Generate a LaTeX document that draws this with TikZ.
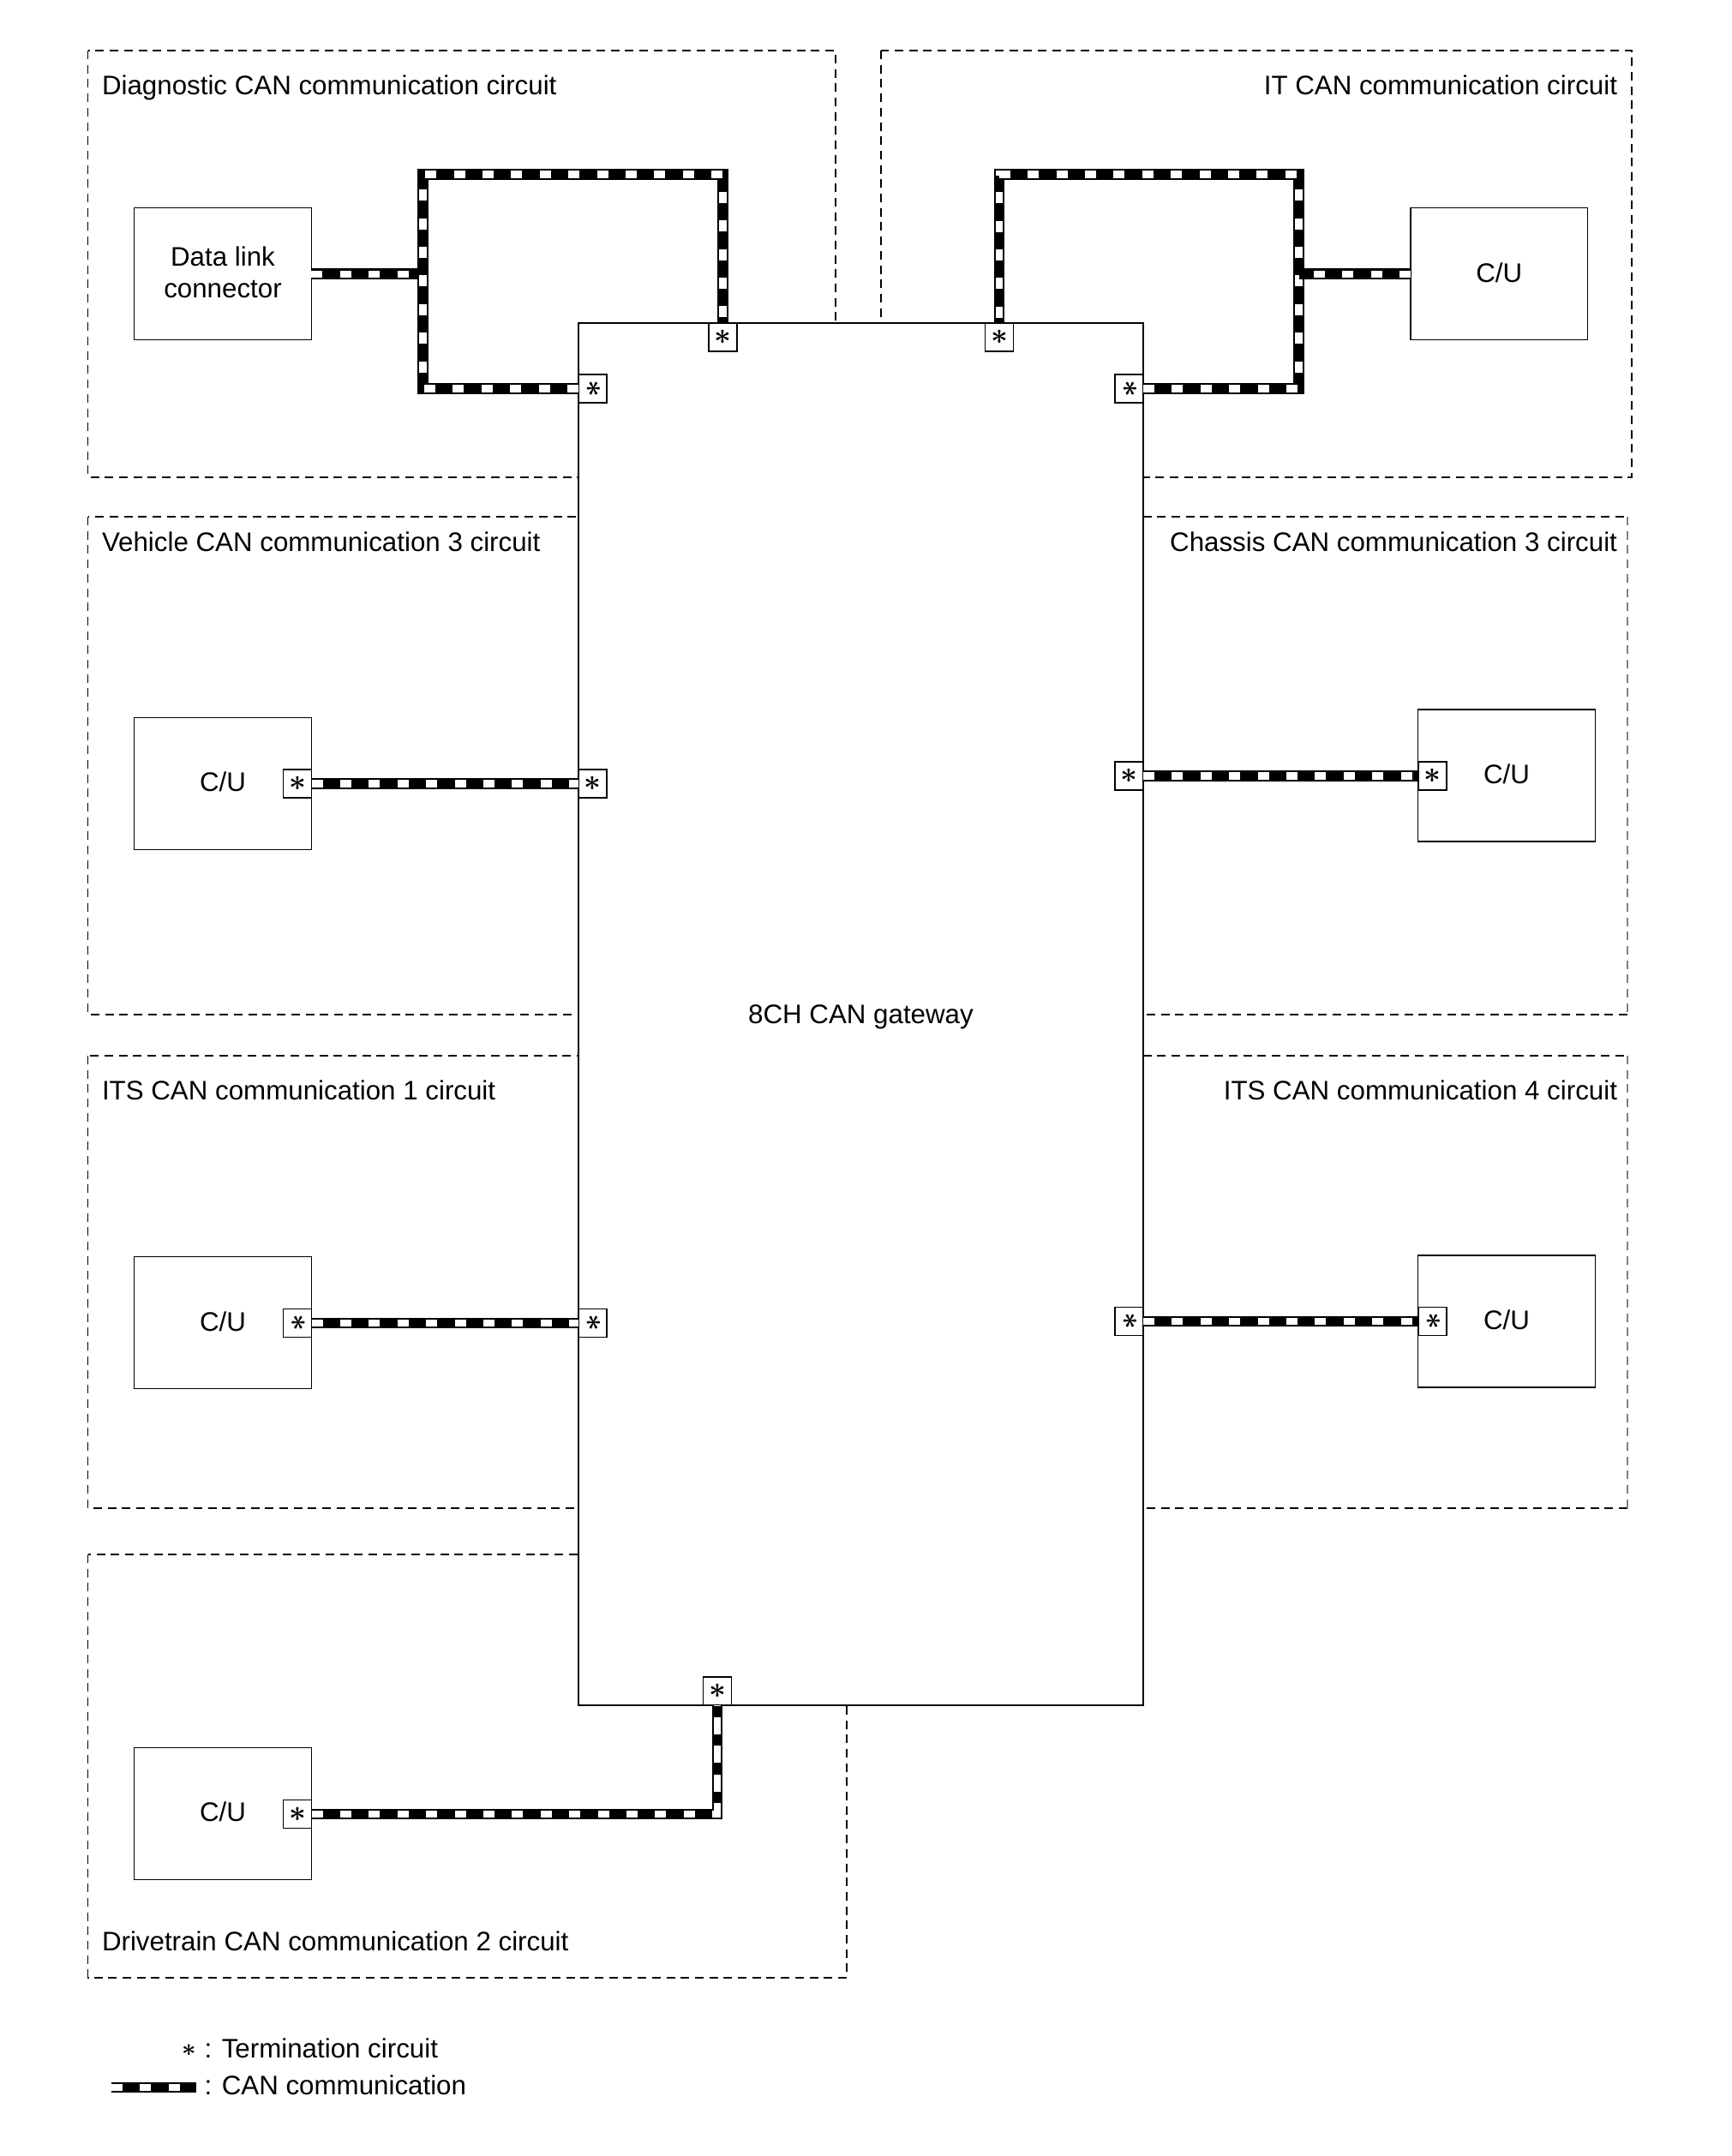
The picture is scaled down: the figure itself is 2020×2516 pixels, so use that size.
\documentclass[tikz,border=0pt]{standalone}
\usepackage{amsmath}
\usepackage{fontspec}
\setmainfont{Liberation Sans}

\tikzset{
	region/.style = {draw = black, line width = 0.7pt, dash pattern = on 5pt off 3.35pt},
	unitbox/.style = {draw = black, fill = white, line width = 0.65pt, inner sep = 0, outer sep = 0, align = center, text depth = 2pt, minimum width = 103.4pt, minimum height = 77pt},
	termbox/.style = {draw = black, fill = white, line width = 0.85pt, inner sep = 0, outer sep = 0, minimum size = 16.5pt},
	title/.style = {inner sep = 0, outer sep = 0},
	canblack/.style = {draw = black, line width = 6.25pt},
	canwhite/.style = {draw = white, line width = 4.2pt, dash pattern = on 6.5pt off 10.2pt},
	canwire/.style = {canblack, postaction = {canwhite}}
}
\newcommand{\termstar}{\fontsize{19}{19}\selectfont\raisebox{-.22em}[.25em][.25em]{$\boldsymbol{\ast}$}}
\newcommand{\termstarh}{\rotatebox[origin = c]{90}{\fontsize{19}{19}\selectfont\raisebox{-.25em}[.25em][.25em]{$\boldsymbol{\ast}$}}}

\begin{document}
\begin{tikzpicture}[x = 0.5pt, y = -0.5pt, font = \fontsize{15.65}{18.5}\selectfont]

	\useasboundingbox (0, 0) rectangle (2020, 2516);

	% Circuit regions

	\draw [region] (102.5, 59) rectangle (975, 557);
	\draw [region] (1028, 59) rectangle (1904, 557);
	\draw [region] (102.5, 603) rectangle (800, 1184);
	\draw [region] (1899, 1184) -- (1200, 1184) (1200, 603) -- (1899, 603);
	\draw [region, gray] (1899, 603) -- (1899, 1184);
	\draw [region] (102.5, 1232) rectangle (800, 1760);
	\draw [region] (1899, 1760) -- (1200, 1760) (1200, 1232) -- (1899, 1232);
	\draw [region, gray] (1899, 1232) -- (1899, 1760);
	\draw [region] (102.5, 1814) rectangle (988, 2308);

	\node [title, anchor = base west] (diagTitle) at (119, 110) {Diagnostic CAN communication circuit};
	\node [title, anchor = base east] (itTitle) at (1887, 110) {IT CAN communication circuit};
	\node [title, anchor = base west] (vehTitle) at (119, 643) {Vehicle CAN communication 3 circuit};
	\node [title, anchor = base east] (chaTitle) at (1887, 643) {Chassis CAN communication 3 circuit};
	\node [title, anchor = base west] (itsaTitle) at (119, 1283.5) {ITS CAN communication 1 circuit};
	\node [title, anchor = base east] (itsdTitle) at (1887, 1283.5) {ITS CAN communication 4 circuit};
	\node [title, anchor = base west] (driTitle) at (119, 2276.5) {Drivetrain CAN communication 2 circuit};

	% Gateway + control units

	\node [unitbox, line width = 0.85pt, text depth = 3.3pt, text height = 14pt, minimum width = 329.5pt, minimum height = 806.5pt] (gateway) at (1004.5, 1183.5) {8CH CAN gateway};

	\node [unitbox] (dlc) at (260, 319.7) {Data link\\connector};
	\node [unitbox] (itCU) at (1749.3, 319.7) {C/U};
	\node [unitbox] (vehCU) at (260, 914.2) {C/U};
	\node [unitbox] (chaCU) at (1758, 905) {C/U};
	\node [unitbox] (itsaCU) at (260, 1543.8) {C/U};
	\node [unitbox] (itsdCU) at (1758, 1542) {C/U};
	\node [unitbox] (driCU) at (260, 2116.5) {C/U};

	% Termination circuits

	\node [termbox] (diagA) at (691.5, 453.5) {\termstarh};
	\node [termbox] (diagB) at (843.3, 393.5) {\termstar};
	\node [termbox] (itA) at (1166, 393.5) {\termstar};
	\node [termbox] (itB) at (1317.5, 453.5) {\termstarh};
	\node [termbox] (vehA) at (347, 914.5) {\termstar};
	\node [termbox] (vehB) at (691.5, 914.5) {\termstar};
	\node [termbox] (chaA) at (1317.5, 905.3) {\termstar};
	\node [termbox] (chaB) at (1671.5, 905.3) {\termstar};
	\node [termbox] (itsaA) at (347, 1544) {\termstarh};
	\node [termbox] (itsaB) at (691.5, 1544) {\termstarh};
	\node [termbox] (itsdA) at (1317.5, 1542) {\termstarh};
	\node [termbox] (itsdB) at (1671.5, 1542) {\termstarh};
	\node [termbox] (driA) at (347, 2117) {\termstar};
	\node [termbox] (driB) at (837, 1973.5) {\termstar};

	% CAN lines

	\coordinate (diagSW) at (493.5, 453.5);
	\coordinate (diagNW) at (493.5, 203.5);
	\coordinate (diagNE) at (843.3, 203.5);
	\coordinate (diagJ) at (493.5, 319.7);
	\coordinate (itNW) at (1166, 203.5);
	\coordinate (itNE) at (1515.5, 203.5);
	\coordinate (itSE) at (1515.5, 453.5);
	\coordinate (itJ) at (1515.5, 319.7);
	\coordinate (driC) at (837, 2117);
	\coordinate (driD) at (837, 2121);

	\draw [canwire] (dlc.east) -- (diagJ);
	\draw [canwire] (diagA.west) -- (diagSW) -- (diagNW) -- (diagNE) -- (diagB.north);
	\draw [canwire] (itB.east) -- (itSE) -- (itNE) -- (itNW) -- (itA.north);
	\draw [canwire] (itCU.west) -- (itJ);
	\draw [canwire] (vehA.east) -- (vehB.west);
	\draw [canwire] (chaA.east) -- (chaB.west);
	\draw [canwire] (itsaA.east) -- (itsaB.west);
	\draw [canwire] (itsdA.east) -- (itsdB.west);

	\draw [canblack] (driA.east) -- (driC) -- (driB.south);
	\draw [canwhite] (driA.east) -- (driC);
	\draw [canwhite, dash pattern = on 10pt off 6.7pt, dash phase = 1.5pt] (driD) -- (driB.south);

	% Legend

	\node [title, font = \fontsize{15}{15}\selectfont] (legStar) at (220.7, 2391.5) {\raisebox{-.25em}[.25em][.25em]{$\boldsymbol{\ast}$}};
	\node [title, anchor = base west] (legTerm) at (238.5, 2401) {: Termination circuit};
	\coordinate (legL) at (130, 2436);
	\coordinate (legR) at (229, 2436);
	\draw [canwire] (legL) -- (legR);
	\node [title, anchor = base west] (legCan) at (238.5, 2444) {: CAN communication};

\end{tikzpicture}
\end{document}
